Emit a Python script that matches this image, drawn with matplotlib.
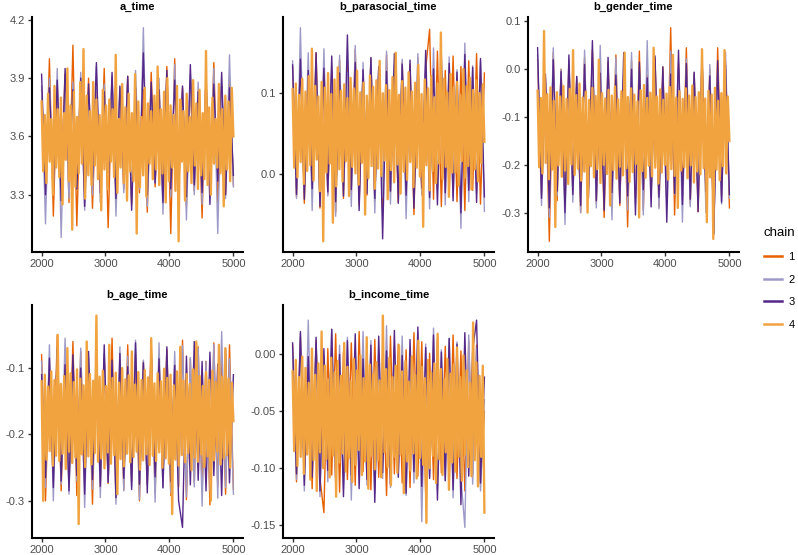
import numpy as np
import matplotlib
matplotlib.use("Agg")
import matplotlib.pyplot as plt
from matplotlib.lines import Line2D

plt.rcParams['font.family'] = ['Liberation Sans', 'DejaVu Sans']
plt.rcParams['axes.unicode_minus'] = False

chain_colors = ["#E66101", "#9E9AC8", "#542788", "#F1A340"]
chain_names = ["1", "2", "3", "4"]
params = ["a_time", "b_parasocial_time", "b_gender_time", "b_age_time", "b_income_time"]

# thinned draws, per parameter and chain
a_time = [
    [3.84, 3.30, 4.00, 3.19, 3.87, 3.34, 3.92, 3.26, 4.07, 3.14,
     3.85, 3.32, 3.90, 3.23, 3.83, 3.35, 3.95, 3.13, 3.88, 3.29,
     3.82, 3.33, 3.91, 3.25, 3.86, 3.31, 3.84, 3.21, 3.93, 3.34,
     3.87, 3.27, 3.96, 3.10, 4.00, 3.30, 3.85, 3.24, 3.89, 3.32,
     3.83, 3.18, 3.92, 3.33, 3.98, 3.26, 3.86, 3.30, 3.90, 3.35],
    [3.86, 3.15, 3.90, 3.32, 3.95, 3.08, 3.84, 3.28, 3.88, 3.35,
     3.93, 3.22, 3.82, 3.30, 3.96, 3.26, 3.87, 3.34, 3.91, 3.19,
     3.85, 3.31, 3.89, 3.27, 3.94, 3.33, 4.16, 3.24, 3.83, 3.36,
     3.90, 3.20, 3.86, 3.29, 3.97, 3.32, 3.84, 3.17, 3.92, 3.30,
     3.88, 3.25, 3.85, 3.33, 3.95, 3.10, 3.87, 3.28, 4.02, 3.34],
    [3.92, 3.30, 3.85, 3.36, 3.89, 3.27, 3.95, 3.38, 3.84, 3.33,
     3.90, 3.24, 3.87, 3.39, 3.98, 3.31, 3.83, 3.35, 3.93, 3.28,
     3.86, 3.37, 3.91, 3.22, 3.85, 3.34, 4.03, 3.30, 3.88, 3.36,
     3.84, 3.26, 3.94, 3.33, 3.89, 3.38, 3.86, 3.29, 3.97, 3.35,
     3.83, 3.31, 3.90, 3.25, 3.87, 3.37, 3.93, 3.30, 3.85, 3.40],
    [3.78, 3.42, 3.71, 3.36, 3.82, 3.47, 3.69, 3.30, 3.86, 3.44,
     3.74, 3.39, 3.80, 3.25, 3.72, 3.48, 3.95, 3.37, 3.76, 3.12,
     3.83, 3.34, 3.70, 3.41, 3.88, 3.46, 4.05, 3.28, 3.81, 3.40,
     3.73, 3.35, 3.88, 3.45, 3.79, 3.38, 3.71, 3.22, 3.84, 3.43,
     3.76, 3.33, 3.79, 3.47, 3.74, 3.39, 4.02, 3.31, 3.69, 3.44,
     3.87, 3.36, 3.75, 3.27, 3.82, 3.42, 3.72, 3.37, 3.92, 3.10,
     3.78, 3.34, 3.70, 3.40, 3.85, 3.29, 3.77, 3.46, 3.73, 3.38,
     3.81, 3.43, 3.96, 3.35, 3.74, 3.41, 3.83, 3.26, 3.90, 3.37,
     3.76, 3.44, 3.71, 3.32, 3.86, 3.06, 3.79, 3.47, 3.73, 3.27,
     3.82, 3.42, 3.70, 3.36, 3.89, 3.45, 3.77, 3.33, 3.84, 3.40,
     3.72, 3.38, 4.04, 3.35, 3.75, 3.30, 3.80, 3.46, 3.69, 3.44,
     3.87, 3.41, 3.74, 3.24, 3.81, 3.43, 3.78, 3.37, 3.85, 3.60],
]

b_parasocial_time = [
    [0.132, -0.028, 0.145, -0.036, 0.128, -0.021, 0.150, -0.042, 0.137, -0.025,
     0.126, -0.047, 0.141, -0.030, 0.134, -0.019, 0.154, -0.038, 0.129, -0.026,
     0.143, -0.033, 0.131, -0.044, 0.148, -0.022, 0.127, -0.035, 0.139, -0.029,
     0.136, -0.050, 0.144, -0.024, 0.130, 0.179, -0.031, 0.152, -0.040, 0.128,
     -0.027, 0.146, -0.034, 0.133, -0.045, 0.140, -0.020, 0.149, -0.037, 0.125],
    [0.140, -0.030, 0.181, -0.022, 0.150, -0.045, 0.128, -0.035, 0.155, -0.027,
     0.133, -0.052, 0.147, -0.019, 0.126, -0.040, 0.159, -0.033, 0.138, -0.024,
     0.144, -0.048, 0.130, -0.029, 0.152, -0.037, 0.135, -0.021, 0.142, -0.055,
     0.127, -0.031, 0.149, -0.026, 0.137, -0.043, 0.156, -0.020, 0.131, -0.038,
     0.145, -0.028, 0.129, -0.067, 0.162, -0.034, 0.134, -0.023, 0.140, -0.046],
    [0.135, -0.025, 0.142, -0.031, 0.128, -0.018, 0.150, -0.040, 0.131, -0.022,
     0.146, -0.034, 0.125, -0.027, 0.172, -0.019, 0.138, -0.045, 0.129, -0.024,
     0.144, -0.030, 0.133, -0.080, 0.127, -0.021, 0.149, -0.036, 0.136, -0.026,
     0.141, -0.042, 0.124, -0.017, 0.153, -0.029, 0.130, -0.038, 0.145, -0.023,
     0.137, -0.033, 0.126, -0.048, 0.148, -0.020, 0.132, -0.035, 0.143, -0.028],
    [0.105, 0.008, 0.112, -0.004, 0.098, 0.015, 0.118, -0.012, 0.102, 0.004,
     0.121, 0.011, 0.155, -0.008, 0.109, 0.018, 0.096, -0.021, 0.114, -0.083,
     0.107, 0.002, 0.125, 0.013, 0.099, -0.060, 0.117, -0.015, 0.132, 0.006,
     0.103, -0.009, 0.111, 0.016, 0.094, -0.027, 0.119, 0.009, 0.106, 0.001,
     0.128, -0.013, 0.101, 0.014, 0.113, -0.050, 0.097, -0.005, 0.122, 0.010,
     0.108, -0.018, 0.116, 0.007, 0.140, -0.002, 0.100, 0.017, 0.110, -0.031,
     0.104, 0.005, 0.120, -0.010, 0.150, 0.012, 0.098, -0.024, 0.115, 0.003,
     0.107, -0.007, 0.126, 0.015, 0.102, -0.016, 0.113, 0.008, 0.135, -0.003,
     0.099, -0.065, 0.117, 0.011, 0.106, -0.020, 0.121, 0.004, 0.095, -0.011,
     0.112, 0.013, 0.175, -0.006, 0.118, 0.009, 0.101, -0.028, 0.124, 0.002,
     0.107, 0.002, 0.114, -0.014, 0.098, 0.016, 0.130, -0.004, 0.109, 0.010,
     0.119, -0.019, 0.104, 0.006, 0.116, -0.009, 0.100, 0.014, 0.111, 0.040],
]

b_gender_time = [
    [0.020, -0.260, -0.015, -0.360, 0.035, -0.275, 0.000, -0.290, 0.010, -0.255,
     -0.020, -0.300, 0.025, -0.268, 0.040, -0.280, -0.010, -0.310, 0.015, -0.262,
     0.030, -0.285, -0.005, -0.330, 0.018, -0.270, 0.038, -0.295, -0.012, -0.258,
     0.022, -0.288, 0.005, -0.272, 0.087, -0.305, 0.012, -0.266, 0.045, -0.282,
     -0.008, -0.298, 0.028, -0.276, 0.000, -0.340, 0.045, -0.264, 0.016, -0.290],
    [0.030, -0.285, -0.020, -0.310, 0.045, -0.265, 0.000, -0.325, 0.020, -0.278,
     -0.015, -0.300, 0.040, -0.270, 0.010, -0.290, 0.050, -0.260, -0.005, -0.315,
     0.025, -0.275, -0.010, -0.295, 0.035, -0.283, 0.005, -0.305, 0.060, -0.268,
     0.015, -0.292, -0.012, -0.280, 0.038, -0.262, 0.002, -0.320, 0.022, -0.288,
     -0.008, -0.272, 0.042, -0.300, 0.010, -0.345, -0.004, -0.282, 0.036, -0.270],
    [0.045, -0.270, -0.010, -0.290, 0.020, -0.255, -0.005, -0.300, 0.030, -0.262,
     -0.015, -0.285, 0.010, -0.250, 0.060, -0.275, -0.008, -0.295, 0.025, -0.258,
     -0.012, -0.280, 0.035, -0.265, 0.000, -0.305, 0.015, -0.252, -0.018, -0.288,
     0.028, -0.268, 0.005, -0.320, -0.010, -0.260, 0.040, -0.283, 0.012, -0.272,
     -0.006, -0.298, 0.022, -0.256, -0.014, -0.345, 0.018, -0.278, 0.008, -0.262],
    [-0.045, -0.205, -0.060, -0.218, 0.080, -0.196, -0.052, -0.230, -0.038, -0.210,
     -0.066, -0.330, -0.048, -0.201, -0.057, -0.225, -0.035, -0.212, -0.062, -0.240,
     -0.041, -0.199, 0.040, -0.221, -0.054, -0.208, -0.030, -0.233, -0.059, -0.214,
     -0.047, -0.300, -0.064, -0.203, -0.039, -0.226, -0.056, -0.209, 0.020, -0.238,
     -0.050, -0.200, -0.061, -0.219, -0.043, -0.285, -0.055, -0.211, -0.036, -0.229,
     -0.063, -0.204, -0.046, -0.222, 0.035, -0.207, -0.058, -0.236, -0.040, -0.215,
     -0.053, -0.198, -0.067, -0.310, -0.044, -0.213, -0.033, -0.227, -0.060, -0.202,
     -0.049, -0.224, 0.045, -0.206, -0.057, -0.239, -0.042, -0.216, -0.064, -0.200,
     -0.051, -0.231, -0.037, -0.209, 0.030, -0.223, -0.059, -0.290, -0.046, -0.212,
     -0.062, -0.205, -0.040, -0.228, -0.055, -0.201, -0.034, -0.237, -0.058, -0.214,
     -0.048, -0.220, 0.042, -0.207, -0.061, -0.320, -0.045, -0.226, -0.053, -0.355,
     -0.039, -0.210, -0.066, -0.232, -0.050, -0.203, 0.040, -0.218, -0.057, -0.150],
]

b_age_time = [
    [-0.080, -0.300, -0.095, -0.270, -0.050, -0.285, -0.088, -0.278, -0.060, -0.292,
     -0.075, -0.268, -0.098, -0.305, -0.070, -0.280, -0.085, -0.274, -0.055, -0.296,
     -0.092, -0.283, -0.065, -0.271, -0.078, -0.300, -0.090, -0.276, -0.060, -0.288,
     -0.082, -0.265, -0.072, -0.292, -0.095, -0.279, -0.058, -0.298, -0.086, -0.272,
     -0.068, -0.284, -0.090, -0.306, -0.062, -0.278, -0.080, -0.290, -0.065, -0.282],
    [-0.090, -0.280, -0.065, -0.300, -0.080, -0.275, -0.055, -0.290, -0.095, -0.270,
     -0.070, -0.310, -0.085, -0.282, -0.060, -0.295, -0.078, -0.272, -0.092, -0.305,
     -0.068, -0.285, -0.082, -0.278, -0.058, -0.298, -0.088, -0.274, -0.072, -0.302,
     -0.062, -0.281, -0.094, -0.288, -0.075, -0.276, -0.066, -0.294, -0.084, -0.279,
     -0.070, -0.308, -0.090, -0.284, -0.064, -0.296, -0.045, -0.280, -0.086, -0.290],
    [-0.110, -0.265, -0.085, -0.280, -0.070, -0.270, -0.095, -0.285, -0.080, -0.262,
     -0.100, -0.290, -0.075, -0.268, -0.090, -0.278, -0.065, -0.272, -0.088, -0.295,
     -0.078, -0.266, -0.098, -0.283, -0.062, -0.275, -0.092, -0.288, -0.072, -0.264,
     -0.086, -0.280, -0.068, -0.271, -0.096, -0.300, -0.340, -0.082, -0.276, -0.060,
     -0.269, -0.090, -0.285, -0.076, -0.262, -0.094, -0.292, -0.071, -0.273, -0.110],
    [-0.120, -0.300, -0.110, -0.238, -0.128, -0.225, -0.105, -0.247, -0.118, -0.232,
     -0.050, -0.240, -0.124, -0.229, -0.112, -0.252, -0.070, -0.226, -0.108, -0.243,
     -0.121, -0.235, -0.102, -0.335, -0.116, -0.230, -0.126, -0.249, -0.060, -0.233,
     -0.109, -0.245, -0.119, -0.228, -0.021, -0.241, -0.113, -0.236, -0.104, -0.251,
     -0.127, -0.227, -0.065, -0.244, -0.115, -0.231, -0.107, -0.290, -0.122, -0.237,
     -0.100, -0.248, -0.117, -0.229, -0.111, -0.242, -0.075, -0.234, -0.125, -0.226,
     -0.106, -0.253, -0.118, -0.239, -0.103, -0.230, -0.114, -0.246, -0.055, -0.232,
     -0.123, -0.240, -0.108, -0.227, -0.120, -0.250, -0.101, -0.236, -0.115, -0.244,
     -0.110, -0.320, -0.126, -0.238, -0.105, -0.247, -0.068, -0.231, -0.119, -0.242,
     -0.109, -0.228, -0.124, -0.254, -0.102, -0.235, -0.060, -0.241, -0.112, -0.230,
     -0.127, -0.249, -0.106, -0.233, -0.118, -0.300, -0.104, -0.239, -0.121, -0.226,
     -0.065, -0.245, -0.113, -0.236, -0.070, -0.231, -0.116, -0.250, -0.122, -0.180],
]

b_income_time = [
    [0.008, -0.112, 0.015, -0.104, -0.003, -0.118, 0.012, -0.109, -0.139, 0.005,
     -0.106, 0.018, -0.121, 0.002, -0.110, 0.010, -0.115, 0.020, -0.103, 0.006,
     -0.119, 0.013, -0.108, -0.001, -0.124, 0.016, -0.105, 0.009, -0.113, 0.004,
     -0.117, 0.019, -0.107, 0.011, -0.122, 0.001, -0.110, 0.014, -0.104, 0.007,
     -0.116, 0.017, -0.109, 0.003, -0.120, 0.012, -0.106, 0.008, -0.114, -0.050],
    [0.005, -0.110, 0.018, -0.120, 0.030, -0.105, 0.010, -0.125, -0.002, -0.112,
     0.022, -0.108, 0.008, -0.118, 0.015, -0.128, 0.000, -0.106, 0.020, -0.115,
     0.012, -0.122, 0.003, -0.109, 0.025, -0.117, 0.007, -0.104, 0.016, -0.124,
     -0.001, -0.113, 0.019, -0.147, 0.009, -0.107, 0.023, -0.119, 0.004, -0.111,
     0.014, -0.126, 0.011, -0.108, -0.152, 0.017, -0.114, 0.006, -0.120, -0.040],
    [0.010, -0.105, 0.020, -0.115, -0.002, -0.108, 0.015, -0.120, 0.005, -0.102,
     0.022, -0.112, 0.000, -0.125, 0.012, -0.106, 0.018, -0.118, -0.004, -0.110,
     0.008, -0.130, 0.016, -0.104, 0.003, -0.114, 0.021, -0.108, -0.001, -0.122,
     0.013, -0.103, 0.024, -0.116, 0.006, -0.109, 0.017, -0.128, 0.002, -0.111,
     0.014, -0.119, 0.009, -0.132, 0.019, -0.107, 0.004, 0.030, -0.113, -0.020],
    [-0.015, -0.085, -0.005, -0.098, -0.020, -0.090, -0.002, -0.105, -0.012, -0.088,
     -0.025, -0.110, 0.005, -0.093, -0.018, -0.120, -0.008, -0.086, 0.020, -0.100,
     -0.010, -0.092, -0.022, -0.108, -0.003, -0.089, -0.016, -0.125, -0.006, -0.095,
     -0.019, -0.087, 0.010, -0.103, -0.011, -0.091, -0.024, -0.112, -0.004, -0.097,
     -0.014, -0.084, -0.001, -0.106, -0.021, -0.094, 0.015, -0.118, -0.009, -0.089,
     -0.017, -0.101, -0.007, -0.093, -0.023, -0.108, 0.034, -0.086, -0.013, -0.099,
     -0.003, -0.115, -0.020, -0.090, -0.010, -0.104, 0.008, -0.088, -0.015, -0.122,
     -0.006, -0.094, -0.024, -0.102, -0.002, -0.087, -0.018, -0.109, 0.012, -0.091,
     -0.011, -0.097, -0.021, -0.148, -0.005, -0.100, -0.016, -0.089, -0.008, -0.113,
     0.018, -0.092, -0.013, -0.106, -0.022, -0.086, -0.004, -0.119, -0.017, -0.095,
     -0.009, -0.103, 0.006, -0.090, -0.020, -0.111, -0.001, -0.088, -0.014, -0.099,
     -0.025, -0.107, 0.028, -0.093, -0.007, -0.116, -0.019, -0.090, -0.010, -0.139],
]

draws = [a_time, b_parasocial_time, b_gender_time, b_age_time, b_income_time]

y_ticks = [
    [3.3, 3.6, 3.9, 4.2],
    [0.0, 0.1],
    [-0.3, -0.2, -0.1, 0.0, 0.1],
    [-0.3, -0.2, -0.1],
    [-0.15, -0.10, -0.05, 0.00],
]
y_fmt = ["%.1f", "%.1f", "%.1f", "%.1f", "%.2f"]
x_ticks = [2000, 3000, 4000, 5000]
iter_first, iter_last = 2001, 5000

W, H = 798, 555
fig = plt.figure(figsize=(W / 100, H / 100), dpi=100)

# panel boxes in pixels: left, right, top, bottom
boxes = [(32, 243, 17, 252), (283, 494, 17, 252), (528, 739, 17, 252),
         (32, 243, 305, 538), (283, 494, 305, 538)]
# the last chain is thinned the least, drawn on top and a bit thicker so it fills the band
line_w = [1.0, 1.0, 1.0, 1.7]

for i, name in enumerate(params):
    l, r, t, b = boxes[i]
    ax = fig.add_axes([l / W, 1 - b / H, (r - l) / W, (b - t) / H])
    for c, vals in enumerate(draws[i]):
        it = np.linspace(iter_first, iter_last, len(vals))
        ax.plot(it, vals, color=chain_colors[c], lw=line_w[c])
    ax.set_title(name, fontsize=8, fontweight="bold", pad=5)
    ax.set_xticks(x_ticks)
    ax.set_yticks(y_ticks[i])
    ax.set_yticklabels([y_fmt[i] % v for v in y_ticks[i]])
    for s in ["top", "right"]:
        ax.spines[s].set_visible(False)
    for s in ["left", "bottom"]:
        ax.spines[s].set_linewidth(1.5)
    ax.tick_params(labelsize=8, labelcolor="#4D4D4D", length=3, width=1, color="#333333", pad=2)

handles = [Line2D([], [], color=col, lw=1.8) for col in chain_colors]
leg = fig.legend(handles, chain_names, title="chain", loc="upper left",
                 bbox_to_anchor=(754 / W, 1 - 217 / H), frameon=False,
                 fontsize=8, title_fontsize=9.5, handlelength=1.6,
                 labelspacing=1.15, handletextpad=0.6)
leg._legend_box.align = "left"

fig.savefig("out.png", dpi=100)
